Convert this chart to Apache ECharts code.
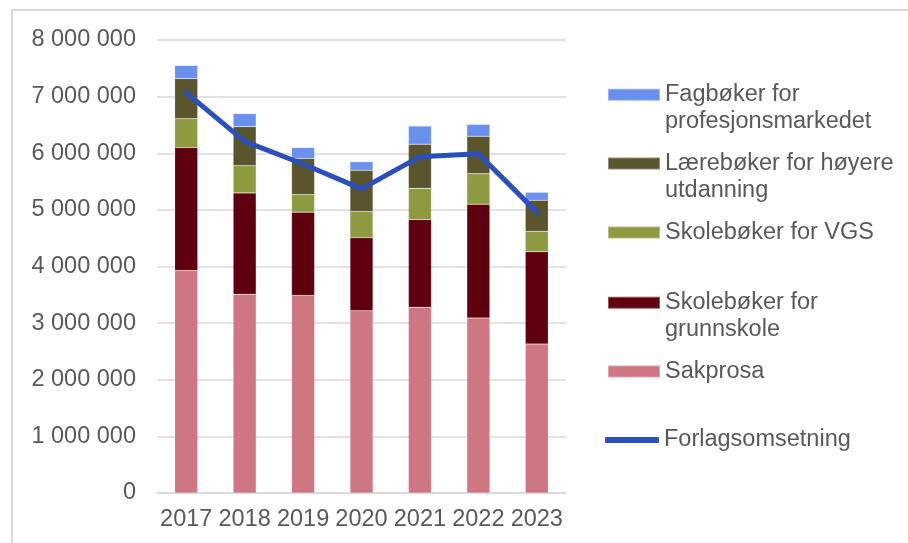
<!DOCTYPE html>
<html>
<head>
<meta charset="utf-8">
<script src="https://cdn.jsdelivr.net/npm/echarts@6/dist/echarts.min.js"></script>
<style>
  html, body { margin: 0; padding: 0; background: #fff; }
  #chart { width: 908px; height: 543px; }
</style>
</head>
<body>
<div id="chart"></div>
<script>
const years = ["2017", "2018", "2019", "2020", "2021", "2022", "2023"];
const sakprosa = [3930000, 3510000, 3490000, 3220000, 3280000, 3090000, 2630000];
const grunnskole = [2170000, 1790000, 1470000, 1290000, 1550000, 2010000, 1630000];
const vgs = [510000, 480000, 310000, 460000, 550000, 540000, 360000];
const hoyere = [710000, 690000, 640000, 730000, 780000, 660000, 550000];
const fagboker = [230000, 230000, 190000, 150000, 320000, 210000, 140000];
const forlag = [7070000, 6210000, 5810000, 5370000, 5940000, 5990000, 4960000];

const FONT = "Liberation Sans, Arial, sans-serif";
const TXT = "#595959";
const FS = 23.5;

function fmt(v) {
  return String(v).replace(/\B(?=(\d{3})+(?!\d))/g, " ");
}

function bar(name, data, color) {
  return {
    name: name,
    type: "bar",
    stack: "total",
    data: data,
    barWidth: 23,
    itemStyle: { color: color, borderColor: "rgba(255,255,255,0.35)", borderWidth: 0.5 },
  };
}

// one legend per entry; two-line names get a leading blank line so the
// icon sits on the first text line, like in the original
function legendItem(name, centerY, twoLines) {
  return {
    left: 607,
    top: twoLines ? centerY - 40.5 : centerY - 13.5,
    padding: 0,
    orient: "vertical",
    icon: "rect",
    itemWidth: 52,
    itemHeight: 12,
    itemGap: 0,
    data: [name],
    formatter: twoLines ? (n) => "\n" + n : "{name}",
    textStyle: {
      fontFamily: FONT,
      fontSize: FS,
      color: TXT,
      lineHeight: 27,
    },
  };
}

const chart = echarts.init(document.getElementById("chart"));
chart.setOption({
  backgroundColor: "#fff",
  animation: false,
  grid: { left: 157, right: 342, top: 40, bottom: 50 },
  graphic: [
    {
      type: "rect",
      shape: { x: 12, y: 10, width: 1000, height: 1000 },
      style: { fill: "none", stroke: "#D9D9D9", lineWidth: 2 },
    },
  ],
  legend: [
    legendItem("Fagbøker for\nprofesjonsmarkedet", 94.7, true),
    legendItem("Lærebøker for høyere\nutdanning", 163.5, true),
    legendItem("Skolebøker for VGS", 232.5, false),
    legendItem("Skolebøker for\ngrunnskole", 302.7, true),
    legendItem("Sakprosa", 371.5, false),
    Object.assign(legendItem("Forlagsomsetning", 440, false), {
      left: 605,
      icon: "roundRect",
      itemWidth: 54,
      itemHeight: 6,
    }),
  ],
  xAxis: {
    type: "category",
    data: years,
    axisTick: { show: false },
    axisLine: { lineStyle: { color: "#D9D9D9", width: 1.5 } },
    axisLabel: { color: TXT, fontFamily: FONT, fontSize: FS, margin: 15, interval: 0 },
  },
  yAxis: {
    type: "value",
    min: 0,
    max: 8000000,
    interval: 1000000,
    axisLine: { show: false },
    axisTick: { show: false },
    splitLine: { lineStyle: { color: "#D9D9D9", width: 1.5 } },
    axisLabel: { color: TXT, fontFamily: FONT, fontSize: FS, margin: 21, formatter: fmt },
  },
  series: [
    bar("Sakprosa", sakprosa, "#CE7682"),
    bar("Skolebøker for\ngrunnskole", grunnskole, "#5E000E"),
    bar("Skolebøker for VGS", vgs, "#8E9A3F"),
    bar("Lærebøker for høyere\nutdanning", hoyere, "#5B552E"),
    bar("Fagbøker for\nprofesjonsmarkedet", fagboker, "#6A90EE"),
    {
      name: "Forlagsomsetning",
      type: "line",
      data: forlag,
      symbol: "none",
      lineStyle: { color: "#2B4FBD", width: 5, cap: "round", join: "round" },
      itemStyle: { color: "#2B4FBD" },
    },
  ],
});
</script>
</body>
</html>
